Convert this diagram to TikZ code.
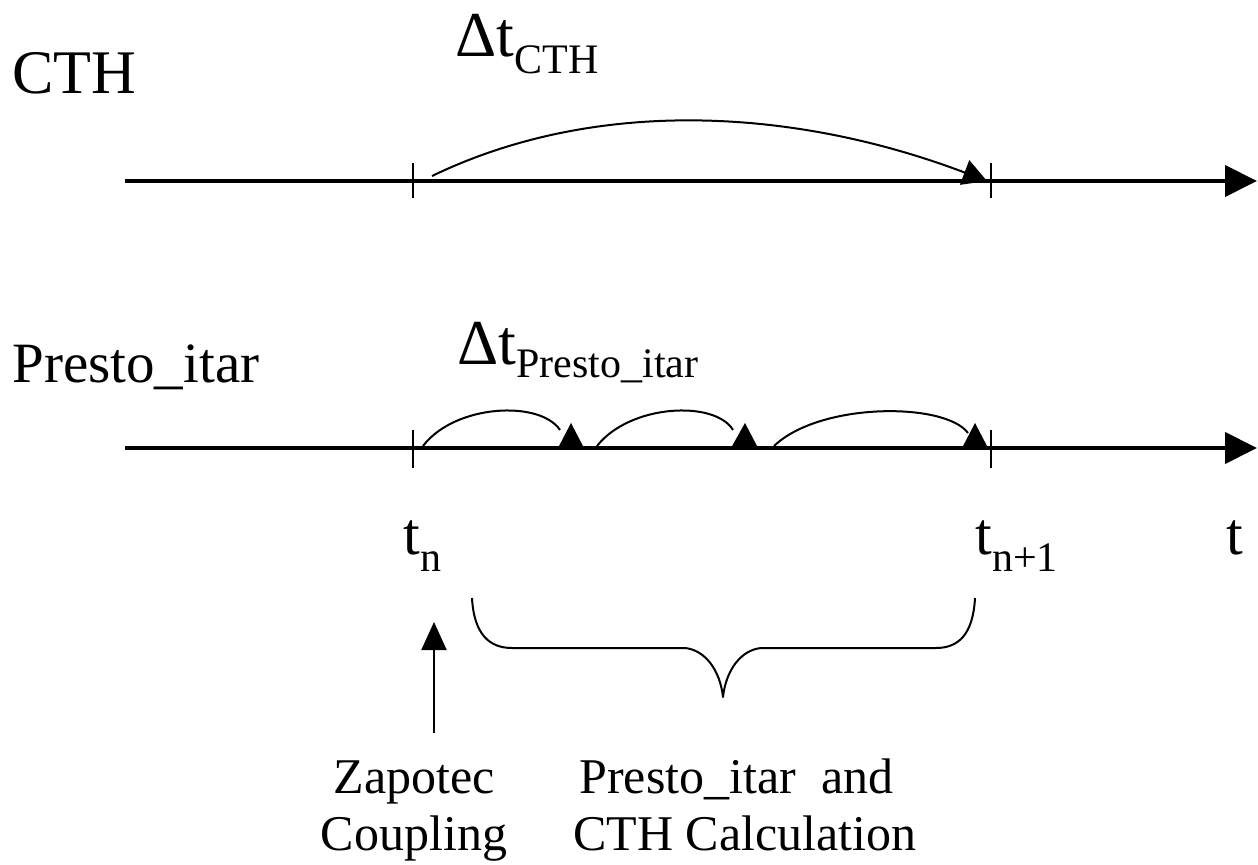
\documentclass[tikz,border=0pt]{standalone}
\usepackage{fontspec}
\setmainfont{Liberation Serif}
\usetikzlibrary{arrows.meta}
\begin{document}
\begin{tikzpicture}[x=0.5pt,y=-0.5pt,
  axis/.style={line width=2pt,-{Triangle[length=16pt,width=15.5pt]}},
  tickmark/.style={line width=1pt},
  hop/.style={line width=1pt},
  hophead/.style={fill=black},
  bigarc/.style={line width=1pt,-{Triangle[length=12pt,width=13pt]}},
  uparrow/.style={line width=1pt,-{Triangle[length=14pt,width=12.5pt]}},
  bracestyle/.style={line width=1pt,line join=round},
  lbl/.style={inner sep=0pt,anchor=base west},
  mainfont/.style={font=\fontsize{31}{36}\selectfont},
  smallfont/.style={font=\fontsize{25}{30}\selectfont},
]
\path[use as bounding box] (0,0) rectangle (1258,865);

% axes
\coordinate (a1s) at (125,181);
\coordinate (a1e) at (1257,181);
\coordinate (a2s) at (125,448);
\coordinate (a2e) at (1257,448);
\draw[axis] (a1s) -- (a1e);
\draw[axis] (a2s) -- (a2e);

% ticks
\draw[tickmark] (413,163) -- (413,198);
\draw[tickmark] (991,163) -- (991,198);
\draw[tickmark] (413,430) -- (413,468);
\draw[tickmark] (991,430) -- (991,468);

% CTH step arc
\coordinate (c0) at (432,176);
\coordinate (c1) at (987,181);
\draw[bigarc] (c0) .. controls (600,95) and (800,110) .. (c1);

% Presto_itar sub-steps
\coordinate (p0) at (423,446);
\coordinate (p1) at (560,430);
\coordinate (p2) at (597,446);
\coordinate (p3) at (733,430);
\coordinate (p4) at (774,446);
\coordinate (p5) at (968,433);
\draw[hop] (p0) .. controls (455,404) and (540,400) .. (p1);
\draw[hop] (p2) .. controls (630,404) and (715,400) .. (p3);
\draw[hop] (p4) .. controls (820,402) and (945,402) .. (p5);
\fill[hophead] (558,448) -- (571,423) -- (584,448) -- cycle;
\fill[hophead] (731,448) -- (745,423) -- (758,448) -- cycle;
\fill[hophead] (962,448) -- (975,423) -- (988,448) -- cycle;

% labels
\node[lbl,mainfont] (cth) at (12,94) {CTH};
\node[lbl] (dtcth) at (455,57) {\fontsize{32}{36}\selectfont Δt\raisebox{-8.5pt}{\fontsize{21}{24}\selectfont CTH}};
\node[lbl,font=\fontsize{28.5}{34}\selectfont] (presto) at (12,383) {Presto\_itar};
\node[lbl] (dtpresto) at (457,365) {\fontsize{32}{36}\selectfont Δt\raisebox{-6.5pt}{\fontsize{21}{24}\selectfont Presto\_itar}};

\node[lbl] (tn) at (403,555) {\fontsize{30}{36}\selectfont t\raisebox{-8.5pt}{\fontsize{21}{24}\selectfont n}};
\node[lbl] (tn1) at (975,555) {\fontsize{30}{36}\selectfont t\raisebox{-8.5pt}{\fontsize{21}{24}\selectfont n+1}};
\node[lbl] (tt) at (1226,555) {\fontsize{30}{36}\selectfont t};

% brace
\coordinate (bl) at (472,598);
\coordinate (br) at (975,598);
\coordinate (bm) at (723,697);
\draw[bracestyle] (bl) .. controls (474,635) and (490,648) .. (512,648)
  -- (685,648) .. controls (705,650) and (720,670) .. (bm)
  .. controls (726,670) and (741,650) .. (761,648)
  -- (936,648) .. controls (958,648) and (973,635) .. (br);

% coupling arrow
\coordinate (zb) at (434,733);
\coordinate (zt) at (434,622);
\draw[uparrow] (zb) -- (zt);

% bottom texts
\node[inner sep=0pt,anchor=base,smallfont] (zap) at (414,793) {Zapotec};
\node[inner sep=0pt,anchor=base,smallfont] (coup) at (414,850) {Coupling};
\node[lbl,smallfont] (pand) at (579,793) {Presto\_itar\ \ and};
\node[lbl,smallfont] (calc) at (573,850) {CTH Calculation};
\end{tikzpicture}
\end{document}
